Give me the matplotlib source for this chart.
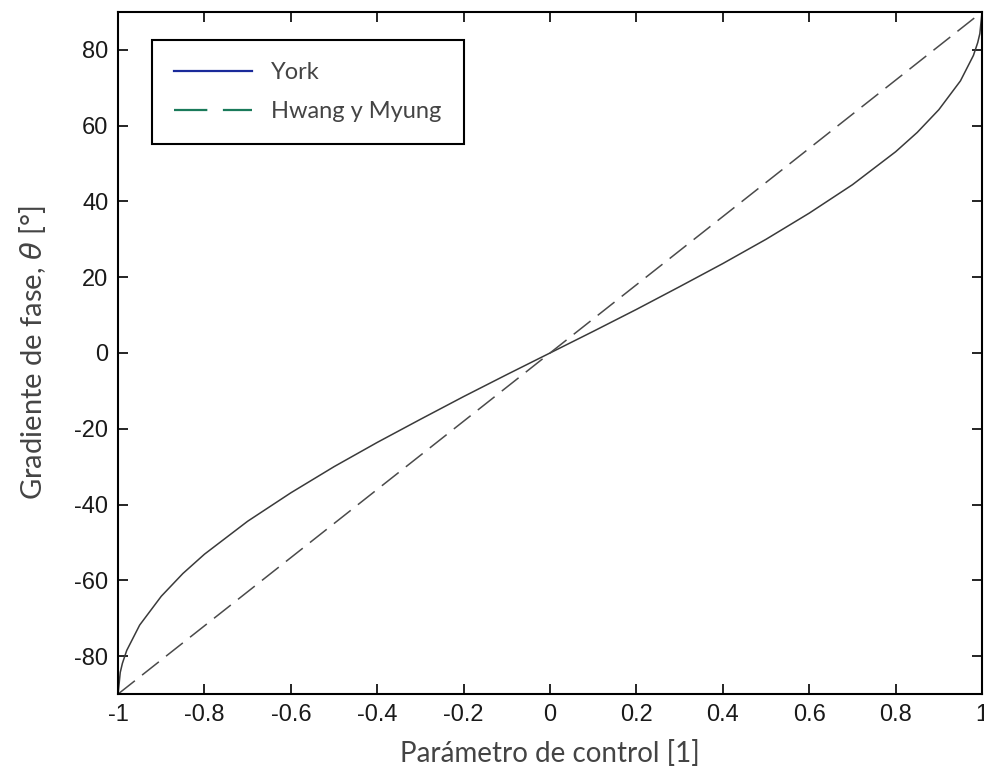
import matplotlib
matplotlib.use("Agg")
import matplotlib.pyplot as plt
from matplotlib.lines import Line2D

# Data
york_x = [-1.0, -0.995, -0.99, -0.98, -0.95, -0.9, -0.85, -0.8, -0.7, -0.6, -0.5, -0.4, -0.3, -0.2, -0.1,
          0.0, 0.1, 0.2, 0.3, 0.4, 0.5, 0.6, 0.7, 0.8, 0.85, 0.9, 0.95, 0.98, 0.99, 0.995, 1.0]
york_y = [-90.0, -84.3, -81.9, -78.5, -71.8, -64.2, -58.2, -53.1, -44.4, -36.9, -30.0, -23.6, -17.5, -11.5, -5.7,
          0.0, 5.7, 11.5, 17.5, 23.6, 30.0, 36.9, 44.4, 53.1, 58.2, 64.2, 71.8, 78.5, 81.9, 84.3, 90.0]

hm_x = [-1.0, -0.8, -0.6, -0.4, -0.2, 0.0, 0.2, 0.4, 0.6, 0.8, 1.0]
hm_y = [-90.0, -72.0, -54.0, -36.0, -18.0, 0.0, 18.0, 36.0, 54.0, 72.0, 90.0]

x_ticks = [-1, -0.8, -0.6, -0.4, -0.2, 0, 0.2, 0.4, 0.6, 0.8, 1]
x_ticklabels = ["-1", "-0.8", "-0.6", "-0.4", "-0.2", "0", "0.2", "0.4", "0.6", "0.8", "1"]
y_ticks = [-80, -60, -40, -20, 0, 20, 40, 60, 80]
y_ticklabels = ["-80", "-60", "-40", "-20", "0", "20", "40", "60", "80"]

fig = plt.figure(figsize=(9.84, 7.69), dpi=100)
ax = fig.add_axes([0.12, 0.0975, 0.878, 0.887])

ax.plot(york_x, york_y, color="#3a3a3a", lw=1.1)
ax.plot(hm_x, hm_y, color="#4a4a4a", lw=1.1, dashes=(14, 6))

ax.set_xlim(-1, 1)
ax.set_ylim(-90, 90)
ax.set_xticks(x_ticks)
ax.set_xticklabels(x_ticklabels)
ax.set_yticks(y_ticks)
ax.set_yticklabels(y_ticklabels)
ax.tick_params(direction="in", top=True, right=True, length=7, width=1.2,
               labelsize=17, pad=7)
for lab in ax.get_xticklabels() + ax.get_yticklabels():
    lab.set_family("Liberation Sans")
    lab.set_color("#1a1a1a")
for sp in ax.spines.values():
    sp.set_linewidth(1.5)

ax.set_xlabel("Parámetro de control [1]", fontsize=20, family="Lato", color="#444444", labelpad=10)
ax.set_ylabel(r"Gradiente de fase, $\theta$ [°]", fontsize=21, family="Lato", color="#444444", labelpad=19)

handles = [Line2D([0], [0], color="#1a2a9a", lw=1.6),
           Line2D([0], [0], color="#1a7a5a", lw=1.6, dashes=(15, 7))]
leg = ax.legend(handles, ["York", "Hwang y Myung"], loc="upper left",
                bbox_to_anchor=(0.039, 0.959), fancybox=False, framealpha=1,
                edgecolor="black", handlelength=3.3, handletextpad=0.8,
                borderpad=0.95, labelspacing=0.75, borderaxespad=0,
                prop={"family": "Lato", "size": 17})
leg.get_frame().set_linewidth(1.5)
for t in leg.get_texts():
    t.set_color("#444444")

fig.savefig("out.png", dpi=100)
